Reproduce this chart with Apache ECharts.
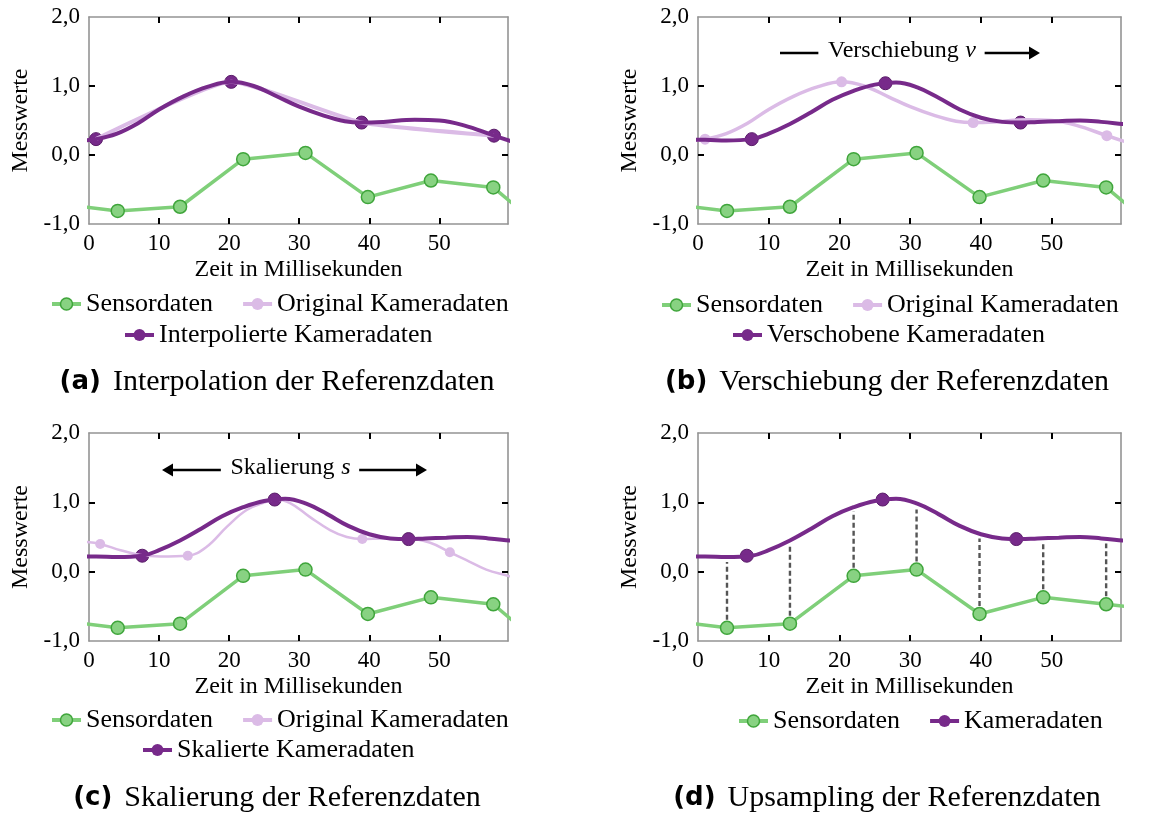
<!DOCTYPE html>
<html><head><meta charset="utf-8">
<script src="https://cdn.jsdelivr.net/npm/echarts@6/dist/echarts.min.js"></script>
<style>html,body{margin:0;padding:0;background:#fff}#c{width:1155px;height:819px}</style>
</head><body><div id="c"></div>
<script>
// ---------------- data ----------------
const xTicks = [0, 10, 20, 30, 40, 50];
const yTicks = [-1, 0, 1, 2];
const X_MAX = 59.8;

// sensor samples (green)
const sensorX  = [-4.8, 4.1, 13.0, 22.0, 30.9, 39.8, 48.8, 57.7, 66.6];
const sensorY  = [-0.70, -0.81, -0.75, -0.06, 0.03, -0.61, -0.37, -0.47, -1.23];
const sensorYd = [-0.70, -0.81, -0.75, -0.06, 0.03, -0.61, -0.37, -0.47, -0.57];

// original camera samples
const camX = [1.0, 20.3, 38.9, 57.8];
const camY = [0.23, 1.06, 0.47, 0.28];

// interpolated camera curve (panel a, light curve in panel b)
const interpX = [-1.5, 1.0, 4, 7, 10, 13.5, 17, 20.3, 23.5, 27, 30, 33.5, 36.5, 38.9, 42, 46.5, 50, 53.5, 57.8, 60.5];
const interpY = [0.21, 0.23, 0.31, 0.46, 0.66, 0.85, 0.99, 1.06, 1.00, 0.84, 0.70, 0.57, 0.49, 0.47, 0.48, 0.51, 0.50, 0.43, 0.28, 0.19];

// shifted / scaled / upsampled camera curve (panels b, c, d)
const shiftX = [-2, 1, 4, 7.6, 10, 13, 16, 19, 22, 25, 28, 31, 34, 37, 40, 43, 45.6, 48, 51, 54, 57, 60, 62];
const shiftY = [0.22, 0.22, 0.21, 0.23, 0.31, 0.45, 0.62, 0.80, 0.93, 1.02, 1.05, 0.98, 0.83, 0.66, 0.54, 0.48, 0.47, 0.48, 0.49, 0.50, 0.48, 0.45, 0.43];
const shiftCamX = [7.6, 26.5, 45.6];
const shiftCamY = [0.23, 1.04, 0.47];
const upCamX = [6.9, 26.1, 45.0];
const upCamY = [0.23, 1.04, 0.47];

// original camera data as drawn in panel c
const scaledX = [-0.5, 1.6, 4.5, 7.3, 10.2, 14.1, 16.8, 19.7, 22.5, 25.4, 26.5, 28.7, 31.5, 34.4, 36.8, 39.0, 42, 45.3, 48.6, 51.5, 53.8, 56.7, 59.8, 61];
const scaledY = [0.43, 0.40, 0.31, 0.24, 0.22, 0.23, 0.36, 0.65, 0.89, 1.01, 1.04, 0.99, 0.79, 0.60, 0.50, 0.47, 0.48, 0.48, 0.42, 0.28, 0.17, 0.03, -0.06, -0.10];
const scaledCamX = [1.6, 14.1, 26.5, 39.0, 51.5];
const scaledCamY = [0.40, 0.23, 1.05, 0.47, 0.28];

// panel d: camera curve value above each sensor sample (top of dashed lines)
const dashX   = [4.1, 13.0, 22.0, 30.9, 39.8, 48.8, 57.7];
const dashBot = [-0.81, -0.75, -0.06, 0.03, -0.61, -0.37, -0.47];
const dashTop = [0.21, 0.46, 0.94, 0.97, 0.55, 0.48, 0.48];

// ---------------- styling ----------------
const FONT = '"Liberation Serif", "Times New Roman", serif';
const FRAME = '#949494';
const C = {green:'#7fcf79', greenFill:'#88d282', greenEdge:'#3fa53b',
           purple:'#772a8a', purpleEdge:'#5a1d69', light:'#dbbbe6'};

const mctx = document.createElement('canvas').getContext('2d');
function tw(t, size, extra){ mctx.font = (extra ? extra + ' ' : '') + size + 'px ' + FONT; return mctx.measureText(t).width; }
const pts = (xs, ys) => xs.map((x, i) => [x, ys[i]]);

const grids = [
  {left: 89,  top: 17,  width: 419, height: 207},
  {left: 698, top: 17,  width: 423, height: 207},
  {left: 89,  top: 433, width: 419, height: 208},
  {left: 698, top: 433, width: 423, height: 208}
];

function xAxisDef(gi, pos){
  return {
    type: 'value', gridIndex: gi, position: pos, min: 0, max: X_MAX, z: 3,
    axisLine: {show: true, onZero: false, lineStyle: {color: FRAME, width: 1.6}},
    axisTick: {show: true, inside: true, length: 6, customValues: xTicks.filter(v => v > 0), lineStyle: {color: '#000', width: 2}},
    axisLabel: {show: pos === 'bottom', customValues: xTicks, margin: 8, fontFamily: FONT, fontSize: 23, color: '#000'},
    splitLine: {show: false},
    name: pos === 'bottom' ? 'Zeit in Millisekunden' : '', nameLocation: 'middle', nameGap: 34,
    nameTextStyle: {fontFamily: FONT, fontSize: 24, color: '#000'}
  };
}
function yAxisDef(gi, pos){
  return {
    type: 'value', gridIndex: gi, position: pos, min: -1, max: 2, interval: 1, z: 1,
    axisLine: {show: true, onZero: false, lineStyle: {color: FRAME, width: 1.6}},
    axisTick: {show: true, inside: true, length: 6, customValues: [0, 1], lineStyle: {color: '#000', width: 2}},
    axisLabel: {show: pos === 'left', customValues: yTicks, formatter: v => v.toFixed(1).replace('.', ','),
                margin: 9, fontFamily: FONT, fontSize: 23, color: '#000'},
    splitLine: {show: pos === 'left', showMinLine: false, showMaxLine: false, lineStyle: {color: '#d8d8d8', width: 2}},
    name: pos === 'left' ? 'Messwerte' : '', nameLocation: 'middle', nameGap: 56, nameRotate: 90,
    nameTextStyle: {fontFamily: FONT, fontSize: 24, color: '#000'}
  };
}

const xAxis = [], yAxis = [];
for (let gi = 0; gi < 4; gi++){
  xAxis.push(xAxisDef(gi, 'bottom'), xAxisDef(gi, 'top'));
  yAxis.push(yAxisDef(gi, 'left'), yAxisDef(gi, 'right'));
}

function curve(name, gi, data, color, width, smooth){
  return {type: 'line', name, xAxisIndex: gi * 2, yAxisIndex: gi * 2, data, smooth,
    symbol: 'circle', showSymbol: false, symbolSize: 12,
    lineStyle: {color, width}, itemStyle: {color}, emphasis: {disabled: true}, silent: true};
}
function dots(name, gi, data, color, size, edge){
  return {type: 'scatter', name, xAxisIndex: gi * 2, yAxisIndex: gi * 2, data, symbol: 'circle', symbolSize: size,
    itemStyle: {color, borderColor: edge || color, borderWidth: edge ? 1 : 0, opacity: 1}, emphasis: {disabled: true}, silent: true};
}
function sensor(gi, ys){
  return {type: 'line', name: 'Sensordaten', xAxisIndex: gi * 2, yAxisIndex: gi * 2, data: pts(sensorX, ys),
    symbol: 'circle', symbolSize: 13, showSymbol: true,
    lineStyle: {color: C.green, width: 3.5},
    itemStyle: {color: C.greenFill, borderColor: C.greenEdge, borderWidth: 1.5},
    emphasis: {disabled: true}, silent: true};
}

const series = [
  // (a)
  curve('Original Kameradaten', 0, pts(camX, camY), C.light, 4, 0.15),
  curve('Interpolierte Kameradaten', 0, pts(interpX, interpY), C.purple, 4, 0.4),
  dots('Interpolierte Kameradaten', 0, pts(camX, camY), C.purple, 13, C.purpleEdge),
  sensor(0, sensorY),
  // (b)
  curve('Original Kameradaten', 1, pts(interpX, interpY), C.light, 3.5, 0.4),
  dots('Original Kameradaten', 1, pts(camX, camY), C.light, 11),
  curve('Verschobene Kameradaten', 1, pts(shiftX, shiftY), C.purple, 4, 0.4),
  dots('Verschobene Kameradaten', 1, pts(shiftCamX, shiftCamY), C.purple, 13, C.purpleEdge),
  sensor(1, sensorY),
  // (c)
  curve('Original Kameradaten', 2, pts(scaledX, scaledY), C.light, 2.5, 0.4),
  dots('Original Kameradaten', 2, pts(scaledCamX, scaledCamY), C.light, 10),
  curve('Skalierte Kameradaten', 2, pts(shiftX, shiftY), C.purple, 4, 0.4),
  dots('Skalierte Kameradaten', 2, pts(shiftCamX, shiftCamY), C.purple, 13, C.purpleEdge),
  sensor(2, sensorY),
  // (d)
  {type: 'custom', xAxisIndex: 6, yAxisIndex: 6, silent: true,
   data: dashX.map((x, i) => [x, dashBot[i], dashTop[i]]),
   renderItem: (params, api) => {
     const p0 = api.coord([api.value(0), api.value(1)]);
     const p1 = api.coord([api.value(0), api.value(2)]);
     return {type: 'line', shape: {x1: p0[0], y1: p0[1], x2: p1[0], y2: p1[1] + 5},
             style: {stroke: '#555', lineWidth: 2.4, lineDash: [5, 3]}};
   }},
  curve('Kameradaten', 3, pts(shiftX, shiftY), C.purple, 4, 0.4),
  dots('Kameradaten', 3, pts(upCamX, upCamY), C.purple, 13, C.purpleEdge),
  sensor(3, sensorYd)
];

// ---------------- legends (one per row, centred under each panel) ----------------
const LEG = {iw: 29, ih: 15, gap: 28, fs: 26};
const legendRows = [
  {cx: 277, y: 304, names: ['Sensordaten', 'Original Kameradaten']},
  {cx: 277, y: 335, names: ['Interpolierte Kameradaten']},
  {cx: 887, y: 305, names: ['Sensordaten', 'Original Kameradaten']},
  {cx: 887, y: 335, names: ['Verschobene Kameradaten']},
  {cx: 277, y: 720, names: ['Sensordaten', 'Original Kameradaten']},
  {cx: 277, y: 750, names: ['Skalierte Kameradaten']},
  {cx: 918, y: 721, names: ['Sensordaten', 'Kameradaten']}
];
const legend = legendRows.map(r => {
  let w = 0;
  r.names.forEach((n, i) => { w += LEG.iw + 5 + tw(n, LEG.fs) + (i ? LEG.gap : 0); });
  return {data: r.names, orient: 'horizontal', left: Math.round(r.cx - w / 2), top: r.y - 13, padding: 0,
    itemWidth: LEG.iw, itemHeight: LEG.ih, itemGap: LEG.gap, selectedMode: false,
    lineStyle: {width: 4}, itemStyle: {borderWidth: 'inherit'},
    textStyle: {fontFamily: FONT, fontSize: LEG.fs, color: '#000'}};
});

// ---------------- captions ----------------
const captionDefs = [
  {l: 'a', t: 'Interpolation der Referenzdaten', cx: 277, cy: 382},
  {l: 'b', t: 'Verschiebung der Referenzdaten', cx: 887, cy: 382},
  {l: 'c', t: 'Skalierung der Referenzdaten', cx: 277, cy: 798},
  {l: 'd', t: 'Upsampling der Referenzdaten', cx: 887, cy: 798}
];
const title = captionDefs.map(c => ({
  text: '{b|(' + c.l + ')}{sp| }{t|' + c.t + '}', left: c.cx, top: c.cy - 17, padding: 0,
  textAlign: 'center', textVerticalAlign: 'top',
  textStyle: {fontWeight: 'normal', rich: {
    b: {fontFamily: '"DejaVu Sans", sans-serif', fontWeight: 'bold', fontSize: 26, color: '#000', lineHeight: 34},
    sp: {width: 12, lineHeight: 34},
    t: {fontFamily: FONT, fontWeight: 'normal', fontSize: 30, color: '#000', lineHeight: 34}
  }}
}));

// ---------------- annotations (arrows) ----------------
function arrowHead(tipX, y, dir){
  return {type: 'polygon', shape: {points: [[tipX, y], [tipX - dir * 11, y - 6.5], [tipX - dir * 11, y + 6.5]]},
          style: {fill: '#000'}, z: 10};
}
function annot(cx, y, word, sym, leftStart, rightTip, leftArrow){
  const w = tw(word + '  ', 24) + tw(sym, 24, 'italic');
  const L = cx - w / 2, R = cx + w / 2;
  const els = [
    {type: 'line', shape: {x1: leftStart + (leftArrow ? 9 : 0), y1: y, x2: L - 7, y2: y}, style: {stroke: '#000', lineWidth: 2.5}, z: 10},
    {type: 'line', shape: {x1: R + 6, y1: y, x2: rightTip - 9, y2: y}, style: {stroke: '#000', lineWidth: 2.5}, z: 10},
    arrowHead(rightTip, y, 1),
    {type: 'text', x: cx, y: y - 2, z: 10, style: {
      text: '{n|' + word + '}  {i|' + sym + '}', align: 'center', verticalAlign: 'middle',
      rich: {n: {fontFamily: FONT, fontSize: 24, fill: '#000'}, i: {fontFamily: FONT, fontSize: 24, fontStyle: 'italic', fill: '#000'}}
    }}
  ];
  if (leftArrow) els.push(arrowHead(leftStart, y, -1));
  return els;
}
const graphic = [].concat(
  annot(902, 53, 'Verschiebung', 'v', 780, 1040, false),
  annot(290.5, 470, 'Skalierung', 's', 162, 427, true)
);

const chart = echarts.init(document.getElementById('c'), null, {renderer: 'canvas'});
chart.setOption({
  animation: false, backgroundColor: '#fff',
  grid: grids.map(g => Object.assign({show: false, containLabel: false}, g)),
  xAxis, yAxis, series, legend, title, graphic
});
</script></body></html>
